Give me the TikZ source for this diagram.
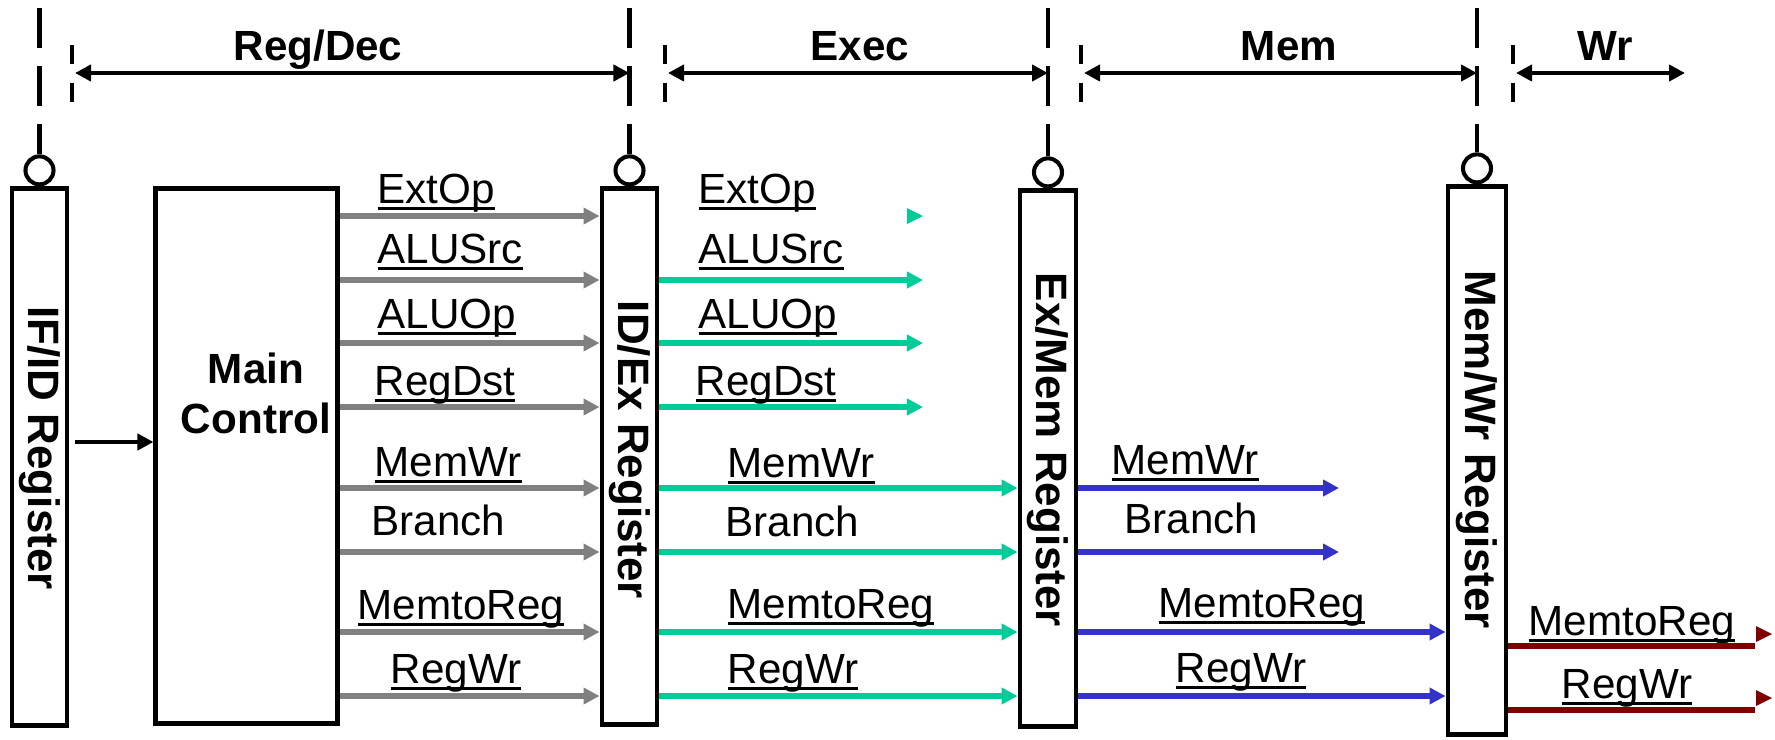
\documentclass[tikz,border=0pt]{standalone}
\usepackage{fontspec}
\setmainfont{Liberation Sans}
\usepackage{tikz}
\usetikzlibrary{positioning, arrows.meta}

\definecolor{ctlgray}{RGB}{128,128,128}
\definecolor{sigteal}{RGB}{0,204,153}
\definecolor{sigblue}{RGB}{51,51,204}
\definecolor{sigred}{RGB}{128,0,0}

% underlined signal name, rule crossing the descenders
\newcommand{\sig}[1]{\setbox0\hbox{#1}\rlap{\rule[-1.9pt]{\wd0}{0.8pt}}\box0}

\begin{document}
\begin{tikzpicture}[
    x=0.01cm, y=-0.01cm,
    >={Triangle[length=1.6mm, width=1.6mm]},
    regbox/.style={
        rectangle, draw=black, line width=1.4pt,
        minimum width=5.5mm, inner sep=0
    },
    reglbl/.style={
        font=\fontsize{12.5pt}{15pt}\selectfont\bfseries,
        rotate=-90, inner sep=0
    },
    ctllbl/.style={
        font=\fontsize{12pt}{14.2pt}\selectfont\bfseries,
        align=center, inner sep=0
    },
    phaselbl/.style={
        font=\fontsize{12pt}{14.2pt}\selectfont\bfseries,
        anchor=base, inner sep=0
    },
    siglbl/.style={
        font=\fontsize{12pt}{14.2pt}\selectfont,
        anchor=base west, inner sep=0
    },
    clock/.style={circle, draw=black, line width=1.15pt, minimum size=2.8mm, inner sep=0},
    clockline/.style={line width=1.3pt, dash pattern=on 4mm off 1.8mm},
    phaseline/.style={line width=1.3pt, dash pattern=on 1.9mm off 1.9mm},
    phasearrow/.style={<->, line width=1.3pt},
    fetcharrow/.style={->, line width=1.3pt},
    ctlsig/.style={->, line width=1.45pt, draw=ctlgray},
    exsig/.style={->, line width=1.45pt, draw=sigteal},
    memsig/.style={->, line width=1.45pt, draw=sigblue},
    wrsig/.style={line width=1.45pt, draw=sigred},
]
\useasboundingbox (0,0) rectangle (1775,739);

% ---------- Pipeline registers ----------
\node[regbox, minimum height=5.36cm] (ifid) at (39.5,457) {};
\node[regbox, minimum width=18.1mm, minimum height=5.34cm] (mainctl) at (246.5,456) {};
\node[regbox, minimum height=5.35cm] (idex) at (629.5,456.5) {};
\node[regbox, minimum width=5.6mm, minimum height=5.35cm] (exmem) at (1048,458.5) {};
\node[regbox, minimum width=5.8mm, minimum height=5.47cm] (memwr) at (1477,460.5) {};

\node[reglbl] (ifidlbl) at (39.5,448) {IF/ID Register};
\node[reglbl] (idexlbl) at (629.5,450) {ID/Ex Register};
\node[reglbl] (exmemlbl) at (1048,450) {Ex/Mem Register};
\node[reglbl] (memwrlbl) at (1477,450) {Mem/Wr Register};
\node[ctllbl] (mainlbl) at (256,393) {Main\\Control};

% ---------- Clocks ----------
\node[clock, above=0pt of ifid] (ifidclk) {};
\node[clock, above=0pt of idex] (idexclk) {};
\node[clock, above=0pt of exmem] (exmemclk) {};
\node[clock, above=0pt of memwr] (memwrclk) {};

\coordinate (clocktop) at (0,8);
\draw[clockline] (ifidclk.north |- clocktop) -- (ifidclk.north);
\draw[clockline] (idexclk.north |- clocktop) -- (idexclk.north);
\draw[clockline] (exmemclk.north |- clocktop) -- (exmemclk.north);
\draw[clockline] (memwrclk.north |- clocktop) -- (memwrclk.north);

% ---------- Phases ----------
\draw[phaseline] (72,45) -- (72,103);
\draw[phaseline] (665,45) -- (665,103);
\draw[phaseline] (1081,45) -- (1081,103);
\draw[phaseline] (1513,45) -- (1513,103);

\coordinate (regdecmark) at (75,73);
\coordinate (execmark) at (668,73);
\coordinate (memmark) at (1084,73);
\coordinate (wrmark) at (1516,73);
\coordinate (wrend) at (1685,73);

\node[phaselbl] (regdeclbl) at (318,60) {Reg/Dec};
\node[phaselbl] (execlbl) at (860,60) {Exec};
\node[phaselbl] (memlbl) at (1289,60) {Mem};
\node[phaselbl] (wrlbl) at (1605,60) {Wr};

% ---------- Signal rows ----------
\coordinate (rExtOp) at (0,216);
\coordinate (rALUSrc) at (0,280);
\coordinate (rALUOp) at (0,343);
\coordinate (rRegDst) at (0,407);
\coordinate (rMemWr) at (0,488);
\coordinate (rBranch) at (0,552);
\coordinate (rMemtoReg) at (0,632);
\coordinate (rRegWr) at (0,696);
\coordinate (rWrMemtoReg) at (0,646);
\coordinate (rWrRegWr) at (0,710);
\coordinate (fetchrow) at (0,442);

\coordinate (exstop) at (923,0);
\coordinate (memstop) at (1339,0);
\coordinate (wrstop) at (1755,0);

% ---------- Reg/Dec labels ----------
\node[siglbl] (dExtOp) at (377,203) {\sig{ExtOp}};
\node[siglbl] (dALUSrc) at (377,263) {\sig{ALUSrc}};
\node[siglbl] (dALUOp) at (377,328) {\sig{ALUOp}};
\node[siglbl] (dRegDst) at (374,395) {\sig{RegDst}};
\node[siglbl] (dMemWr) at (374,476) {\sig{MemWr}};
\node[siglbl] (dBranch) at (371,535) {Branch};
\node[siglbl] (dMemtoReg) at (357,619) {\sig{MemtoReg}};
\node[siglbl] (dRegWr) at (390,683) {\sig{RegWr}};

% ---------- Exec labels ----------
\node[siglbl] (eExtOp) at (698,203) {\sig{ExtOp}};
\node[siglbl] (eALUSrc) at (698,263) {\sig{ALUSrc}};
\node[siglbl] (eALUOp) at (698,328) {\sig{ALUOp}};
\node[siglbl] (eRegDst) at (695,395) {\sig{RegDst}};
\node[siglbl] (eMemWr) at (727,477) {\sig{MemWr}};
\node[siglbl] (eBranch) at (725,536) {Branch};
\node[siglbl] (eMemtoReg) at (727,618) {\sig{MemtoReg}};
\node[siglbl] (eRegWr) at (727,683) {\sig{RegWr}};

% ---------- Mem labels ----------
\node[siglbl] (mMemWr) at (1111,474) {\sig{MemWr}};
\node[siglbl] (mBranch) at (1124,533) {Branch};
\node[siglbl] (mMemtoReg) at (1158,617) {\sig{MemtoReg}};
\node[siglbl] (mRegWr) at (1175,682) {\sig{RegWr}};

% ---------- Wr labels ----------
\node[siglbl] (wMemtoReg) at (1528,635) {\sig{MemtoReg}};
\node[siglbl] (wRegWr) at (1561,698) {\sig{RegWr}};

% ---------- Arrows ----------
\draw[phasearrow] (regdecmark) -- (idexclk |- regdecmark);
\draw[phasearrow] (execmark) -- (exmemclk |- execmark);
\draw[phasearrow] (memmark) -- (memwrclk |- memmark);
\draw[phasearrow] (wrmark) -- (wrend);

\draw[fetcharrow] ([xshift=0.06cm]ifid.east |- fetchrow) -- (mainctl.west |- fetchrow);

\draw[ctlsig] (mainctl.east |- rExtOp) -- (idex.west |- rExtOp);
\draw[ctlsig] (mainctl.east |- rALUSrc) -- (idex.west |- rALUSrc);
\draw[ctlsig] (mainctl.east |- rALUOp) -- (idex.west |- rALUOp);
\draw[ctlsig] (mainctl.east |- rRegDst) -- (idex.west |- rRegDst);
\draw[ctlsig] (mainctl.east |- rMemWr) -- (idex.west |- rMemWr);
\draw[ctlsig] (mainctl.east |- rBranch) -- (idex.west |- rBranch);
\draw[ctlsig] (mainctl.east |- rMemtoReg) -- (idex.west |- rMemtoReg);
\draw[ctlsig] (mainctl.east |- rRegWr) -- (idex.west |- rRegWr);

\fill[sigteal] (907,208) -- (923,216) -- (907,224) -- cycle;
\draw[exsig] (idex.east |- rALUSrc) -- (exstop |- rALUSrc);
\draw[exsig] (idex.east |- rALUOp) -- (exstop |- rALUOp);
\draw[exsig] (idex.east |- rRegDst) -- (exstop |- rRegDst);
\draw[exsig] (idex.east |- rMemWr) -- (exmem.west |- rMemWr);
\draw[exsig] (idex.east |- rBranch) -- (exmem.west |- rBranch);
\draw[exsig] (idex.east |- rMemtoReg) -- (exmem.west |- rMemtoReg);
\draw[exsig] (idex.east |- rRegWr) -- (exmem.west |- rRegWr);

\draw[memsig] (exmem.east |- rMemWr) -- (memstop |- rMemWr);
\draw[memsig] (exmem.east |- rBranch) -- (memstop |- rBranch);
\draw[memsig] (exmem.east |- rMemtoReg) -- (memwr.west |- rMemtoReg);
\draw[memsig] (exmem.east |- rRegWr) -- (memwr.west |- rRegWr);

\draw[wrsig] (memwr.east |- rWrMemtoReg) -- (wrstop |- rWrMemtoReg);
\draw[wrsig] (memwr.east |- rWrRegWr) -- (wrstop |- rWrRegWr);
\fill[sigred] (1756,626) -- (1772,634) -- (1756,642) -- cycle;
\fill[sigred] (1756,690) -- (1772,698) -- (1756,706) -- cycle;

\end{tikzpicture}
\end{document}
